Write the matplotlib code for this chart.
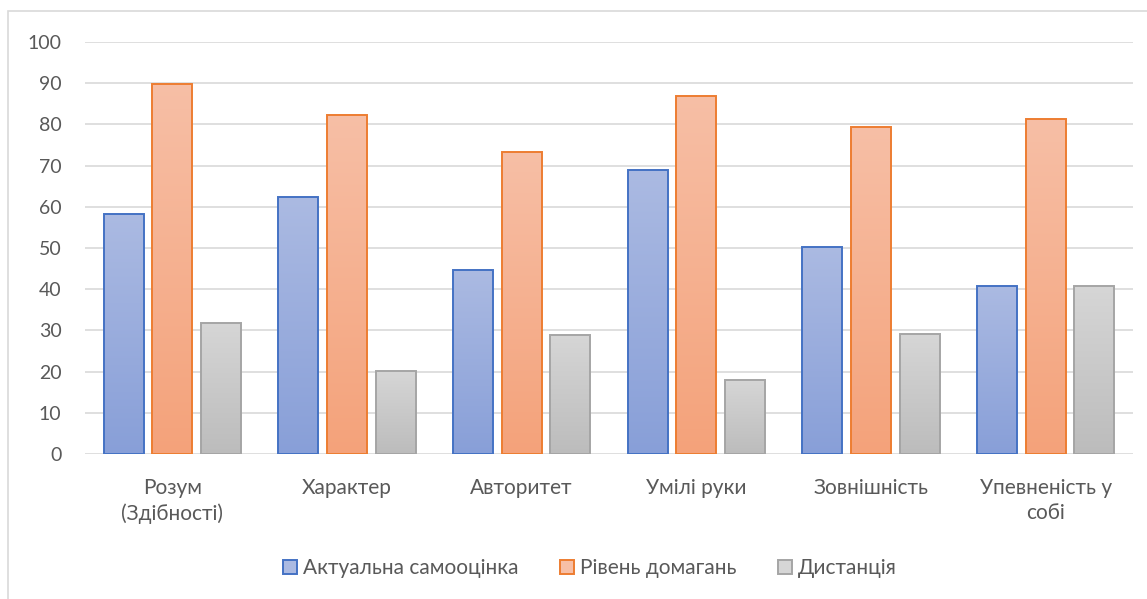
import numpy as np
import matplotlib.pyplot as plt
from matplotlib.patches import Rectangle
from matplotlib.colors import LinearSegmentedColormap

# ── Data ──────────────────────────────────────────────────────────────────────

categories = ["Розум\n(Здібності)", "Характер", "Авторитет", "Умілі руки",
              "Зовнішність", "Упевненість у\nсобі"]
series_names = ["Актуальна самооцінка", "Рівень домагань", "Дистанція"]
actual = [58.2, 62.3, 44.6, 68.9, 50.3, 40.7]
aspiration = [89.9, 82.4, 73.4, 86.9, 79.3, 81.4]
distance = [31.8, 20.1, 28.9, 18.0, 29.1, 40.7]

# ── Styles ────────────────────────────────────────────────────────────────────

EDGE = ["#4472c4", "#ed7d31", "#a5a5a5"]
TOP = ["#abbae2", "#f7bfa6", "#d6d6d6"]
BOTTOM = ["#889fd8", "#f4a27a", "#bcbcbc"]
TEXT = "#595959"

plt.rcParams["font.family"] = ["Lato", "DejaVu Sans"]

fig = plt.figure(figsize=(11.47, 5.99), dpi=100)
ax = fig.add_axes([85 / 1147, 1 - 454 / 599, 1048 / 1147, 412 / 599])

# chart border
fig.add_artist(Rectangle((8 / 1147, -0.1), 1.2, 1 - 11 / 599 + 0.1,
                         transform=fig.transFigure, fill=False,
                         edgecolor="#d9d9d9", linewidth=1.2))

x = np.arange(len(categories))
width = 0.229
step = 0.278

for i, vals in enumerate([actual, aspiration, distance]):
    cmap = LinearSegmentedColormap.from_list(f"g{i}", [BOTTOM[i], TOP[i]])
    bars = ax.bar(x + (i - 1) * step, vals, width, facecolor="none",
                  edgecolor=EDGE[i], linewidth=1.4, zorder=3)
    for b in bars:
        x0, y0 = b.get_x(), b.get_y()
        w, h = b.get_width(), b.get_height()
        grad = np.linspace(0, 1, 256).reshape(-1, 1)
        im = ax.imshow(grad, cmap=cmap, origin="lower", aspect="auto",
                       extent=[x0, x0 + w, y0, y0 + h], zorder=2)
        im.set_clip_path(b)

ax.set_xlim(-0.5, len(categories) - 0.5)
ax.set_ylim(0, 100)
ax.set_yticks(range(0, 101, 10))
ax.set_xticks(x)
ax.set_xticklabels(categories, linespacing=1.35)
ax.tick_params(axis="y", length=0, labelsize=14, labelcolor=TEXT, pad=17)
ax.tick_params(axis="x", length=0, labelsize=15, labelcolor=TEXT, pad=17)
ax.grid(axis="y", color="#d9d9d9", linewidth=1.2, zorder=0)
ax.set_axisbelow(True)
for s in ax.spines.values():
    s.set_visible(False)

handles = [Rectangle((0, 0), 1, 1, facecolor=TOP[i], edgecolor=EDGE[i], linewidth=1.4)
           for i in range(3)]
fig.legend(handles, series_names, loc="center", bbox_to_anchor=(590 / 1147, 1 - 568 / 599),
           ncol=3, frameon=False, fontsize=15, labelcolor=TEXT,
           handlelength=0.65, handleheight=0.65, handletextpad=0.3, columnspacing=2.0)

fig.savefig("out.png", dpi=100)
